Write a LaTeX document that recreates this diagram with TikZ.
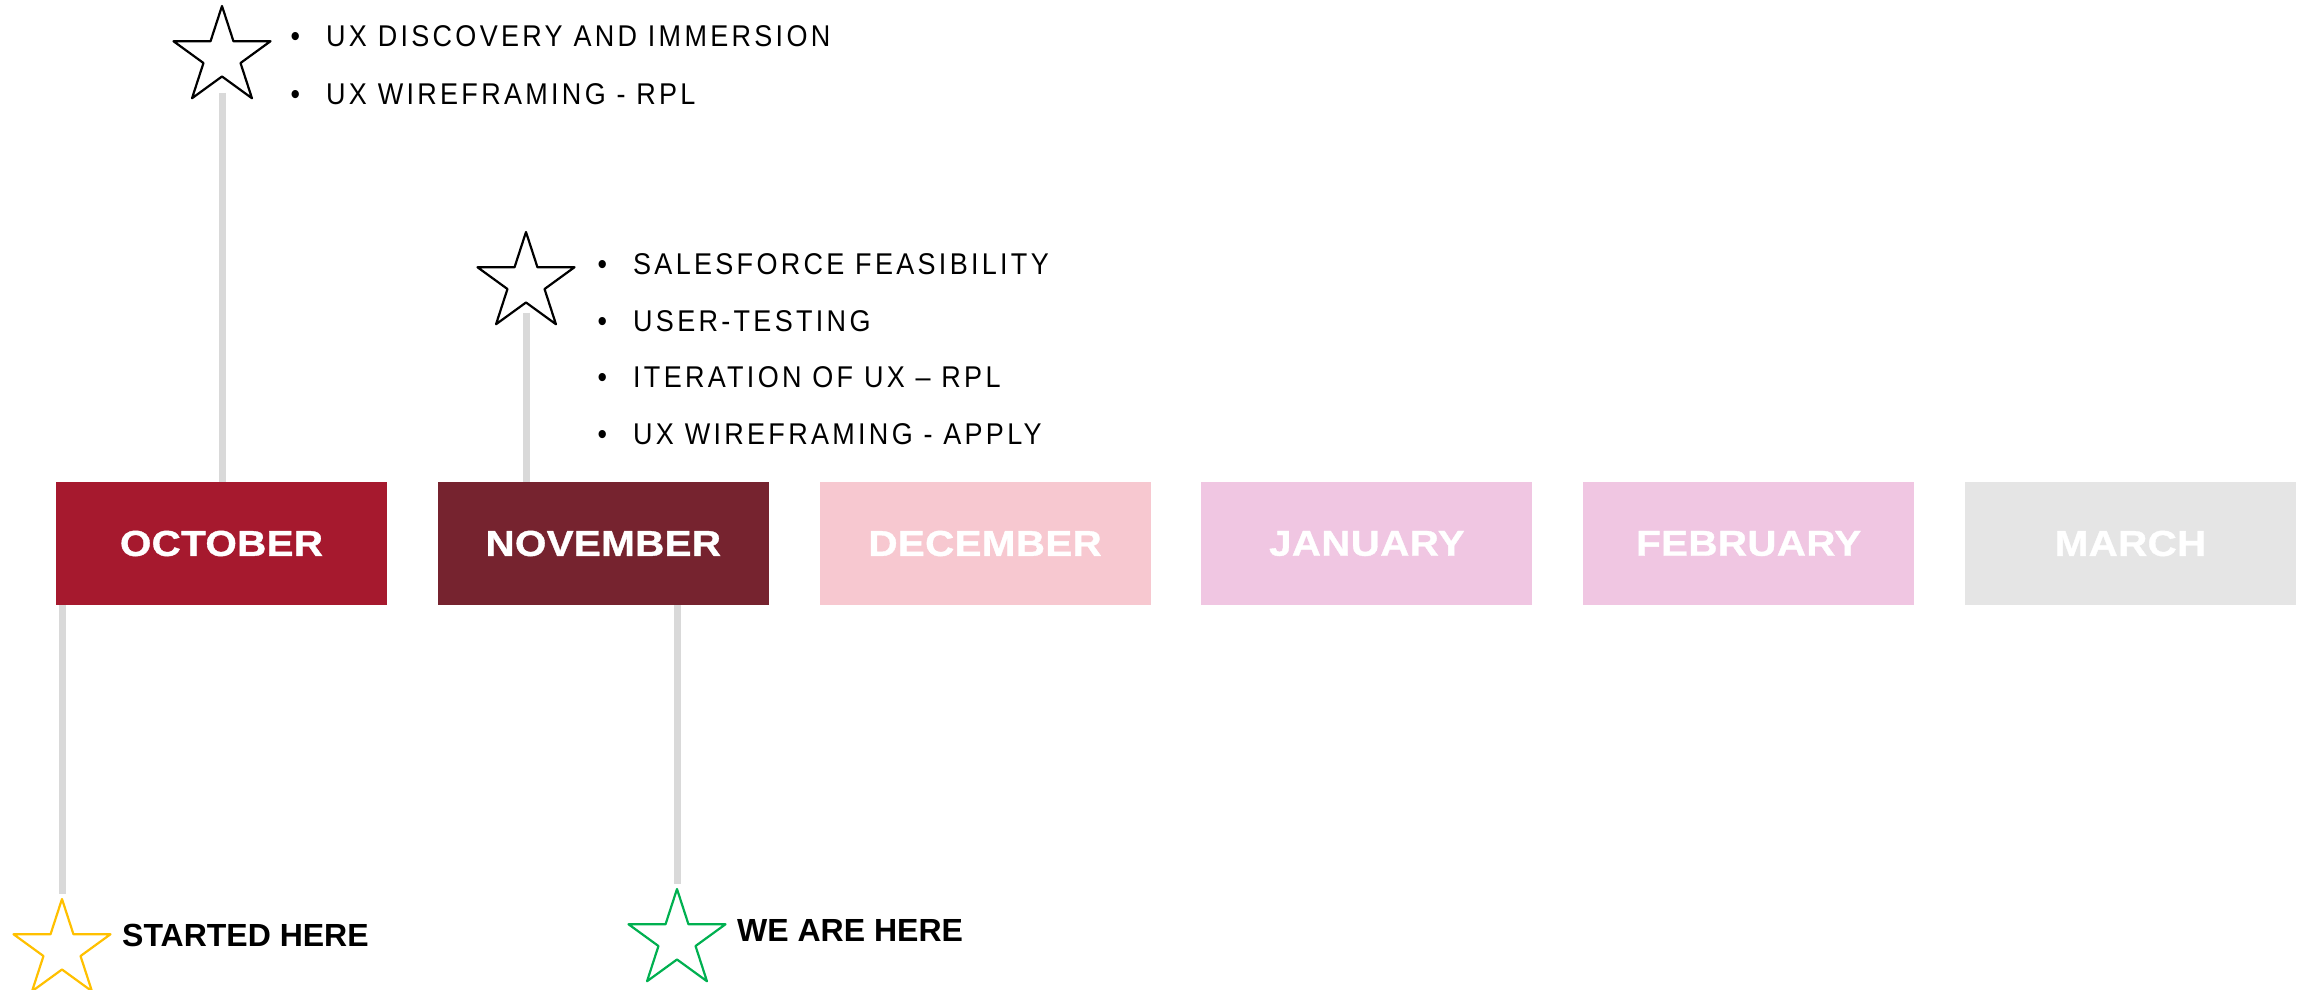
\documentclass[tikz,border=0pt]{standalone}
\usepackage{fontspec}
\setmainfont{Liberation Sans}
\newfontfamily\listfont[LetterSpace=11,FakeStretch=0.9]{Liberation Sans}
\newfontfamily\monthfont[LetterSpace=1,FakeStretch=1.12,FakeBold=1]{Liberation Sans}
\usetikzlibrary{shapes.geometric}
\usetikzlibrary{calc}
\definecolor{octred}{HTML}{A6192E}
\definecolor{novred}{HTML}{76232F}
\definecolor{decpink}{HTML}{F7C8D0}
\definecolor{janpink}{HTML}{F0C6E2}
\definecolor{marchgrey}{HTML}{E5E5E5}
\definecolor{stalkgrey}{HTML}{D9D9D9}
\definecolor{startyellow}{HTML}{FFC000}
\definecolor{nowgreen}{HTML}{00B050}
\tikzset{
  month/.style={rectangle, minimum width=331pt, minimum height=123pt, inner sep=0pt,
    text=white, font=\monthfont\fontsize{36}{36}\selectfont\bfseries},
  stalk/.style={line width=7pt, draw=stalkgrey},
  starmark/.style={star, star points=5, star point ratio=2.618, minimum size=102pt,
    inner sep=0pt, line width=2.2pt, line join=round},
  listitem/.style={anchor=base west, inner sep=0pt, font=\listfont\fontsize{30}{30}\selectfont},
  herelabel/.style={anchor=base west, inner sep=0pt, font=\fontsize{32}{32}\selectfont\bfseries},
}

\begin{document}
\begin{tikzpicture}[line cap=butt,x=1pt,y=1pt]
\useasboundingbox (0,0) rectangle (2303,-990);
% month boxes
\foreach \name/\label/\col [count=\i from 0] in {oct/OCTOBER/octred, nov/NOVEMBER/novred,
    dec/DECEMBER/decpink, jan/JANUARY/janpink, feb/FEBRUARY/janpink, mar/MARCH/marchgrey}
  \node[month, fill=\col] (\name) at (221.5+381.8*\i,-543.5) {\label};

% stars
\node[starmark, draw=black] (discover) at (222,-57) {};
\node[starmark, draw=black] (feasible) at (526,-283) {};
\node[starmark, draw=startyellow] (started) at (62,-950) {};
\node[starmark, draw=nowgreen] (now) at (677,-940) {};

% stalks
\draw[stalk, shorten <=15pt] (discover.south) -- (discover.south |- oct.north);
\draw[stalk, shorten <=9pt] (feasible.south) -- (feasible.south |- nov.north);
\draw[stalk, shorten >=1pt] (started.north |- oct.south) -- (started.north);
\draw[stalk, shorten >=1pt] (now.north |- nov.south) -- (now.north);

% lists
\node[listitem] (discover1) at (290.5,-47) {\makebox[35.5pt][l]{\textbullet}UX DISCOVERY AND IMMERSION};
\node[listitem] (discover2) at (290.5,-104) {\makebox[35.5pt][l]{\textbullet}UX WIREFRAMING - RPL};
\node[listitem] (feasible1) at (597.5,-274) {\makebox[35.5pt][l]{\textbullet}SALESFORCE FEASIBILITY};
\node[listitem] (feasible2) at (597.5,-331) {\makebox[35.5pt][l]{\textbullet}USER-TESTING};
\node[listitem] (feasible3) at (597.5,-387) {\makebox[35.5pt][l]{\textbullet}ITERATION OF UX – RPL};
\node[listitem] (feasible4) at (597.5,-444) {\makebox[35.5pt][l]{\textbullet}UX WIREFRAMING - APPLY};

% here labels
\node[herelabel] (startedtext) at (122,-946) {STARTED HERE};
\node[herelabel] (nowtext) at (737,-941) {WE ARE HERE};
\end{tikzpicture}
\end{document}
